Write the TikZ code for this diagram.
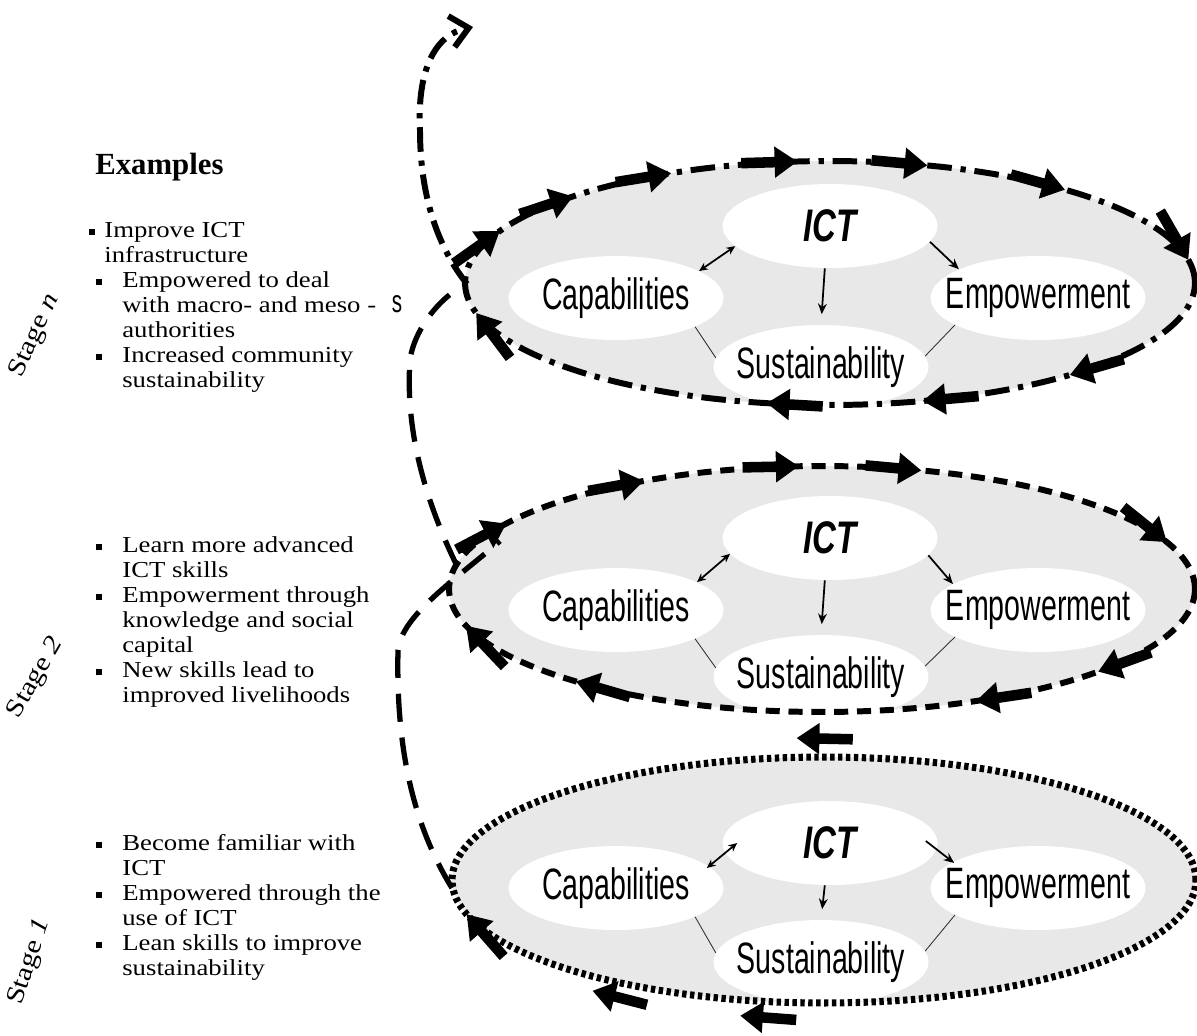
\documentclass[tikz,border=0pt]{standalone}
\usepackage{fontspec}
\setmainfont[FakeStretch=1.17]{Liberation Serif}
\newfontfamily\plainserif{Liberation Serif}
\newfontfamily\narrowsans[FakeStretch=0.65]{Liberation Sans}
\newfontfamily\ictsans[FakeStretch=0.72]{Liberation Sans}
\usetikzlibrary{shapes.geometric,arrows.meta,decorations.markings,calc}
\definecolor{stagegray}{RGB}{232,232,232}
\tikzset{
  lbl/.style={ellipse,fill=white,inner sep=0pt,minimum width=4.3cm,minimum height=1.68cm,
    font=\narrowsans\fontsize{25}{25}\selectfont},
  ictlbl/.style={lbl,font=\ictsans\bfseries\itshape\fontsize{26}{26}\selectfont},
  link/.style={line width=1pt,-{Stealth[length=6pt,width=5pt]}},
  linkb/.style={line width=1pt,{Stealth[length=5pt,width=4.5pt]}-{Stealth[length=5pt,width=4.5pt]}},
  tie/.style={line width=0.5pt,black!80},
  fat/.style={solid,line width=6pt,-{Triangle[length=13pt,width=17pt]}},
  exitem/.style={anchor=north west,inner sep=0pt,align=left,font=\fontsize{13}{14.17}\selectfont},
  bul/.style={fill=black,inner sep=0pt,minimum size=0.13cm},
  stagelbl/.style={font=\fontsize{14.5}{14.5}\selectfont},
  dashdot/.style={line width=3.4pt,dash pattern=on 14pt off 5pt on 3pt off 5pt},
  shortdash/.style={line width=3.4pt,dash pattern=on 8pt off 5pt},
  dotline/.style={line width=4pt,dash pattern=on 2.5pt off 2pt},
  longdash/.style={line width=3pt,dash pattern=on 16pt off 9pt},
}
\newcommand\fatoff[1]{\draw[fat] (32pt,#1) -- (0,#1);}
\newcommand\lab[1]{\makebox[0pt]{#1}}

\begin{document}
\begin{tikzpicture}[x=0.02cm,y=-0.02cm]
\useasboundingbox (0,0) rectangle (1197,1035);

% left column
\node[anchor=base west,inner sep=0pt,font=\plainserif\fontsize{17.5}{20}\selectfont\bfseries] (examples) at (95,174) {Examples};
\foreach \bx/\tx/\ty/\txt [count=\k] in {
    92/104/220/{Improve ICT\\infrastructure},
    99/122/270/{Empowered to deal\\with macro- and meso -\\authorities},
    99/122/345/{Increased community\\sustainability},
    99/122/535/{Learn more advanced\\ICT skills},
    99/122/585/{Empowerment through\\knowledge and social\\capital},
    99/122/660/{New skills lead to\\improved livelihoods},
    99/122/833/{Become familiar with\\ICT},
    99/122/883/{Empowered through the\\use of ICT},
    99/122/933/{Lean skills to improve\\sustainability}}{
  \node[bul] (bul\k) at (\bx,\ty+12) {};
  \node[exitem] (it\k) at (\tx,\ty) {\strut\txt};
}
\node[stagelbl,rotate=65] (stagen) at (35,336) {Stage \textit{n}};
\node[stagelbl,rotate=60] (stage2) at (36,678) {Stage \textit{2}};
\node[stagelbl,rotate=72] (stage1) at (30,962) {Stage \textit{1}};
\node[font=\narrowsans\fontsize{18}{18}\selectfont] (sfrag) at (397,304) {s};

% stages
\coordinate (cn) at (830,283);
\coordinate (c2) at (822,589);
\coordinate (c1) at (824,880);
\fill[stagegray] (cn) ellipse [x radius=7.3cm,y radius=2.44cm];
\fill[stagegray] (c2) ellipse [x radius=7.46cm,y radius=2.46cm];
\fill[stagegray] (c1) ellipse [x radius=7.44cm,y radius=2.46cm];

\foreach \s/\yt/\ym/\yb in {n/226/298/367, 2/538/610/677, 1/843/888/962}{
  \node[ictlbl] (ict\s) at (830,\yt) {\lab{ICT}};
  \node[lbl] (cap\s) at (616,\ym) {\lab{Capabilities}};
  \node[lbl] (emp\s) at (1038,\ym) {\lab{Empowerment}};
  \node[lbl] (sus\s) at (821,\yb) {\lab{Sustainability}};
  \draw[link,shorten >=6pt] (ict\s.263) -- (sus\s.north);
  \draw[tie] (cap\s.-20) -- (sus\s.175);
  \draw[tie] (sus\s.6) -- (emp\s.198);
}
\foreach \s/\ca/\ia/\ib/\ea in {n/18/192/-9/160, 2/19/189/-10/163}{
  \draw[linkb] (cap\s.\ca) -- (ict\s.\ia);
  \draw[link] (ict\s.\ib) -- (emp\s.\ea);
}
\draw[linkb] ($(cap1.east)+(-17,-20)$) -- ($(ict1.west)+(15,0)$);
\draw[link] ($(ict1.east)+(-12,-2)$) -- ($(emp1.west)+(24,-25)$);

\draw[dashdot,postaction={decorate},decoration={markings,
    mark=at position .015 with {\fatoff{0pt}},
    mark=at position .104 with {\fatoff{0pt}},
    mark=at position .19 with {\fatoff{0pt}},
    mark=at position .27 with {\fatoff{0pt}},
    mark=at position .348 with {\fatoff{0pt}},
    mark=at position .41 with {\fatoff{0pt}},
    mark=at position .46 with {\fatoff{0pt}},
    mark=at position .52 with {\fatoff{0pt}},
    mark=at position .711 with {\fatoff{0pt}},
    mark=at position .807 with {\fatoff{0pt}},
    mark=at position .899 with {\fatoff{0pt}}}]
  (cn) ellipse [x radius=7.3cm,y radius=2.44cm];
\draw[shortdash,postaction={decorate},decoration={markings,
    mark=at position .034 with {\fatoff{0pt}},
    mark=at position .19 with {\fatoff{0pt}},
    mark=at position .264 with {\fatoff{0pt}},
    mark=at position .358 with {\fatoff{0pt}},
    mark=at position .445 with {\fatoff{0pt}},
    mark=at position .525 with {\fatoff{0pt}},
    mark=at position .6 with {\fatoff{0pt}},
    mark=at position .735 with {\fatoff{-15pt}},
    mark=at position .843 with {\fatoff{0pt}},
    mark=at position .919 with {\fatoff{0pt}}}]
  (c2) ellipse [x radius=7.46cm,y radius=2.46cm];
\draw[dotline,postaction={decorate},decoration={markings,
    mark=at position .523 with {\fatoff{0pt}},
    mark=at position .611 with {\fatoff{-8pt}},
    mark=at position .70 with {\fatoff{-9pt}}}]
  (c1) ellipse [x radius=7.44cm,y radius=2.46cm];

% spiral between the stages
\coordinate (out1) at (452,888);
\coordinate (in2) at (500,541);
\coordinate (out2) at (457,566);
\coordinate (inn) at (467,284);
\coordinate (top) at (473,27);
\draw[longdash] (out1) .. controls (410,820) and (396,740) .. (398,650)
  .. controls (402,615) and (455,580) .. (in2);
\draw[longdash] (out2) .. controls (425,500) and (405,430) .. (410,360)
  .. controls (414,330) and (440,296) .. (inn);
\draw[dashdot,-{Straight Barb[length=10pt,width=18pt]}] (inn) .. controls (440,250) and (420,200) .. (420,130)
  .. controls (417,70) and (435,35) .. (top);
\end{tikzpicture}
\end{document}
